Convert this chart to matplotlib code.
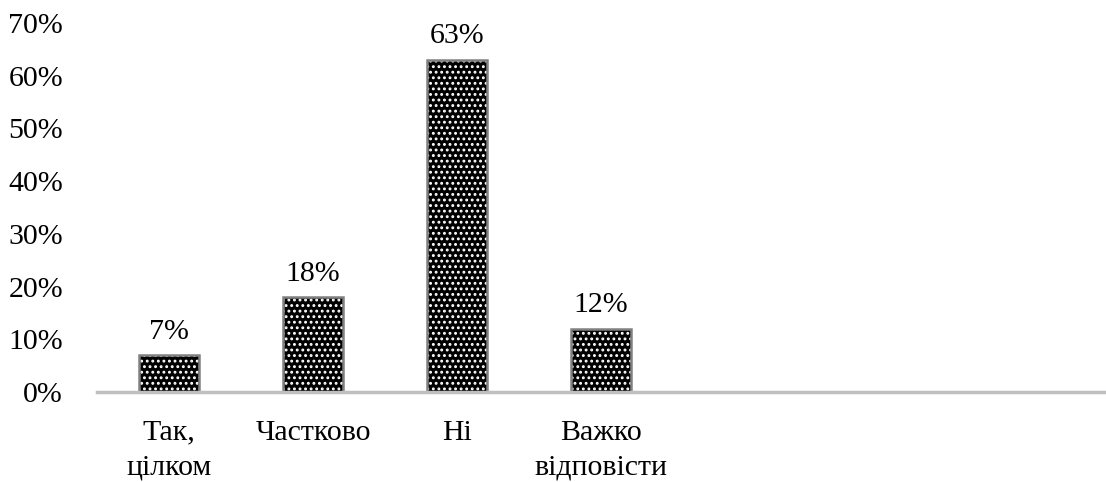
import matplotlib
matplotlib.use("Agg")
import matplotlib.pyplot as plt
from matplotlib.ticker import FuncFormatter

categories = ["Так,\nцілком", "Частково", "Ні", "Важко\nвідповісти"]
values = [7, 18, 63, 12]
y_ticks = [0, 10, 20, 30, 40, 50, 60, 70]
n_slots = 7  # category axis keeps room for seven slots

plt.rcParams["font.family"] = ["Liberation Serif", "DejaVu Serif"]
plt.rcParams["hatch.linewidth"] = 1.3

FS = 21.5

fig = plt.figure(figsize=(11.06, 4.82), dpi=100)
ax = fig.add_axes([97 / 1106, 90 / 482, 1008 / 1106, 369 / 482])

x = list(range(len(categories)))
width = 0.417
# dotted black fill
ax.bar(x, values, width=width, color="black", edgecolor="white",
       hatch="...", linewidth=0, zorder=2)
# soft grey outline
ax.bar(x, values, width=width, fill=False, edgecolor="#808080",
       linewidth=1.8, zorder=3)

for xi, v in zip(x, values):
    ax.annotate(f"{v}%", (xi, v), xytext=(0, 7.5), textcoords="offset points",
                ha="center", va="bottom", fontsize=FS, color="black")

ax.set_xlim(-0.5, n_slots - 0.5)
ax.set_ylim(0, 70)
ax.set_yticks(y_ticks)
ax.yaxis.set_major_formatter(FuncFormatter(lambda v, _: f"{v:.0f}%"))
ax.set_xticks(x)
ax.set_xticklabels(categories, linespacing=1.45)

ax.tick_params(axis="y", length=0, pad=24.5, labelsize=FS)
ax.tick_params(axis="x", length=0, pad=20, labelsize=FS)

for side in ("left", "right", "top"):
    ax.spines[side].set_visible(False)
ax.spines["bottom"].set_color("#bfbfbf")
ax.spines["bottom"].set_linewidth(2.5)
ax.spines["bottom"].set_zorder(4)

fig.savefig("out.png", dpi=100)
